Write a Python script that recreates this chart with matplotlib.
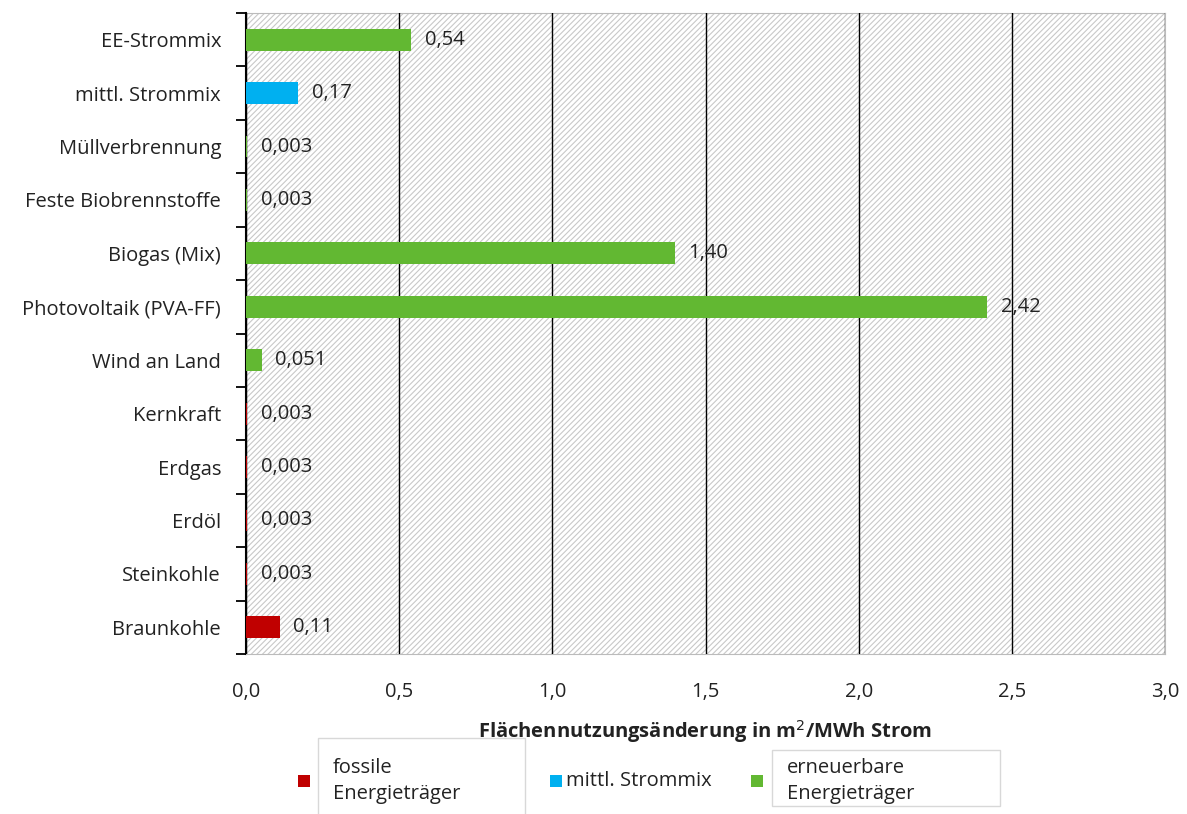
import numpy as np
import matplotlib
matplotlib.use("Agg")
import matplotlib.pyplot as plt
from matplotlib.patches import Rectangle

# data (bottom to top)
categories = ['Braunkohle', 'Steinkohle', 'Erdöl', 'Erdgas', 'Kernkraft', 'Wind an Land',
              'Photovoltaik (PVA-FF)', 'Biogas (Mix)', 'Feste Biobrennstoffe',
              'Müllverbrennung', 'mittl. Strommix', 'EE-Strommix']
values = [0.11, 0.003, 0.003, 0.003, 0.003, 0.051, 2.42, 1.40, 0.003, 0.003, 0.17, 0.54]
value_labels = ['0,11', '0,003', '0,003', '0,003', '0,003', '0,051', '2,42', '1,40',
                '0,003', '0,003', '0,17', '0,54']
groups = ['fossil', 'fossil', 'fossil', 'fossil', 'fossil', 'ee', 'ee', 'ee', 'ee', 'ee', 'mix', 'ee']
group_colors = {'fossil': '#C00000', 'mix': '#00B0F0', 'ee': '#62B832'}
xticks = [0, 0.5, 1.0, 1.5, 2.0, 2.5, 3.0]
xtick_labels = ['0,0', '0,5', '1,0', '1,5', '2,0', '2,5', '3,0']

FS = 14.5
plt.rcParams['font.family'] = ['Open Sans', 'DejaVu Sans']
plt.rcParams['hatch.linewidth'] = 0.8
plt.rcParams['font.size'] = FS

fig = plt.figure(figsize=(11.87, 8.14), dpi=100)
ax = fig.add_axes([246/1187, 1-654/814, (1165-246)/1187, (654-13)/814])

# hatched background
ax.add_patch(Rectangle((0, 0), 1, 1, transform=ax.transAxes, facecolor='white',
                       edgecolor='#c8c8c8', hatch='//////', linewidth=0, zorder=0))

y = np.arange(len(categories))
colors = [group_colors[g] for g in groups]
ax.barh(y, values, height=0.41, color=colors, zorder=3)
for yi, v, lab in zip(y, values, value_labels):
    ax.text(v + 0.045, yi, lab, va='center', ha='left', fontsize=FS, color='#222222', zorder=4)

ax.set_xlim(0, 3.0)
ax.set_ylim(-0.5, len(categories) - 0.5)
ax.set_xticks(xticks)
ax.set_xticklabels(xtick_labels, fontsize=FS, color='#222222')
ax.set_yticks(y)
ax.set_yticklabels(categories, fontsize=FS, color='#222222')
ax.set_yticks(np.arange(len(categories) + 1) - 0.5, minor=True)
ax.tick_params(axis='y', which='major', length=0, pad=18)
ax.tick_params(axis='y', which='minor', length=7, width=1.3, color='black')
ax.tick_params(axis='x', length=0, pad=20)
ax.grid(axis='x', color='black', linewidth=1, zorder=2)
ax.set_axisbelow(False)
for s in ['top', 'right', 'bottom']:
    ax.spines[s].set_color('#bbbbbb')
ax.spines['left'].set_color('black')
ax.spines['left'].set_linewidth(1.5)

ax.set_xlabel('Flächennutzungsänderung in m$^2$/MWh Strom', fontsize=FS,
              fontweight='bold', labelpad=12, color='#222222')

# legend drawn manually
def legend_box(x0, y0, x1, y1):
    fig.patches.append(Rectangle((x0/1187, 1-y1/814), (x1-x0)/1187, (y1-y0)/814,
                                 transform=fig.transFigure, facecolor='none',
                                 edgecolor='#d8d8d8', linewidth=1))

def legend_square(xc, yc, color):
    fig.patches.append(Rectangle(((xc-6)/1187, 1-(yc+6)/814), 12/1187, 12/814,
                                 transform=fig.transFigure, facecolor=color, edgecolor='none'))

legend_box(318, 738, 525, 820)
legend_box(772, 750, 1000, 806)
legend_square(304, 781, group_colors['fossil'])
legend_square(556, 781, group_colors['mix'])
legend_square(757, 781, group_colors['ee'])
fig.text(333/1187, 1-781/814, 'fossile\nEnergieträger', va='center', ha='left',
         fontsize=FS, color='#222222', linespacing=1.45)
fig.text(566/1187, 1-781/814, 'mittl. Strommix', va='center', ha='left',
         fontsize=FS, color='#222222')
fig.text(787/1187, 1-781/814, 'erneuerbare\nEnergieträger', va='center', ha='left',
         fontsize=FS, color='#222222', linespacing=1.45)

fig.savefig('out.png', dpi=100)
